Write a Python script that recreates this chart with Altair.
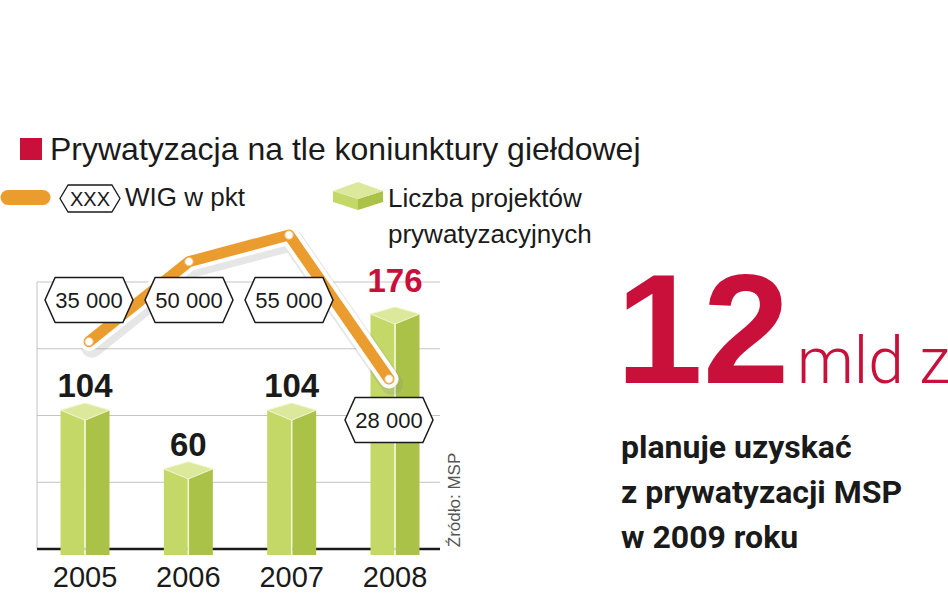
import altair as alt
import pandas as pd

# ---------------- data ----------------
years = ["2005", "2006", "2007", "2008"]
projects = [104, 60, 104, 176]
wig = [35000, 50000, 55000, 28000]
wig_labels = ["35 000", "50 000", "55 000", "28 000"]
grid_values = [50, 100, 150, 200]

title_text = "Prywatyzacja na tle koniunktury giełdowej"
legend_hex_text = "XXX"
legend_line_text = "WIG w pkt"
legend_bar_text = "Liczba projektów\nprywatyzacyjnych"
source_text = "Źródło: MSP"
big_number = "12"
big_unit = "mld zł"
note_text = "planuje uzyskać\nz prywatyzacji MSP\nw 2009 roku"

df = pd.DataFrame({"year": years, "projects": projects, "wig": wig, "wig_label": wig_labels})
grid_df = pd.DataFrame({"v": grid_values})
one = pd.DataFrame({"k": [0]})

# ---------------- styles ----------------
RED = "#c8103a"
ORANGE = "#eb9c2e"
DARK = "#1a1a1a"
GRID = "#c4c4c4"
LEFT_FACE = "#c3d866"
RIGHT_FACE = "#a9c247"
TOP_FACE = "#dce89c"
EDGE = "#f0f6d0"
SANS = "Liberation Sans, Arial, sans-serif"
NUM = "Liberation Sans, Arial, sans-serif"
BOLDTXT = "Roboto, Liberation Sans, sans-serif"

cap_path = "M-1,0L0,-0.29L1,0L0,0.41Z"
hex_path = "M-1,0L-0.77,-0.51L0.77,-0.51L1,0L0.77,0.51L-0.77,0.51Z"
hex_small = "M-1,0L-0.73,-0.45L0.73,-0.45L1,0L0.73,0.45L-0.73,0.45Z"
cube_top = "M-1,-0.2L0,-0.56L1,-0.2L0,0.12Z"
cube_left = "M-1,-0.2L0,0.12L0,0.56L-1,0.24Z"
cube_right = "M0,0.12L1,-0.2L1,0.24L0,0.56Z"

# ---------------- scales ----------------
xb = alt.Scale(type="point", domain=years, range=[85, 395], padding=0)
yb = alt.Scale(domain=[0, 200], range=[549, 282], nice=False, zero=False)
xl = alt.Scale(type="point", domain=years, range=[89, 389], padding=0)
yl = alt.Scale(domain=[28000, 55000], range=[379, 235], nice=False, zero=False)

XB = alt.X("year:O", scale=xb, axis=None)
YB = alt.Y("projects:Q", scale=yb, axis=None)
XL = alt.X("year:O", scale=xl, axis=None)
YL = alt.Y("wig:Q", scale=yl, axis=None)

base = alt.Chart(df)
single = alt.Chart(one)

layers = []

# grid + axes
layers.append(alt.Chart(grid_df).mark_rule(color=GRID, strokeWidth=1).encode(
    y=alt.Y("v:Q", scale=yb, axis=None), x=alt.value(37), x2=alt.value(440)))
layers.append(single.mark_rule(color=GRID, strokeWidth=1).encode(
    x=alt.value(37), y=alt.Y(datum=200, scale=yb, axis=None), y2=alt.datum(0)))
layers.append(single.mark_rule(color=DARK, strokeWidth=2.5).encode(
    y=alt.Y(datum=0, scale=yb, axis=None), x=alt.value(37), x2=alt.value(440)))

# 3D bars
layers.append(base.mark_bar(width=24, xOffset=-12.5, color=LEFT_FACE, y2Offset=6).encode(
    x=XB, y=YB, y2=alt.datum(0)))
layers.append(base.mark_bar(width=24, xOffset=12.5, color=RIGHT_FACE, y2Offset=6).encode(
    x=XB, y=YB, y2=alt.datum(0)))
layers.append(base.mark_rule(color=EDGE, strokeWidth=1.5, y2Offset=6).encode(
    x=XB, y=YB, y2=alt.datum(0)))
layers.append(base.mark_point(shape=cap_path, size=2401, filled=True, fill=TOP_FACE,
                              stroke=EDGE, strokeWidth=1, opacity=1).encode(x=XB, y=YB))

# bar value labels
layers.append(base.transform_filter(alt.datum.year != "2008").mark_text(
    font=NUM, fontWeight="bold", fontSize=33, dy=-13, baseline="alphabetic", color=DARK
).encode(x=XB, y=YB, text="projects:Q"))
layers.append(base.transform_filter(alt.datum.year == "2008").mark_text(
    font=NUM, fontWeight="bold", fontSize=33, dy=-22, baseline="alphabetic", color=RED
).encode(x=XB, y=YB, text="projects:Q"))

# year labels
layers.append(base.mark_text(font=NUM, fontSize=29, baseline="alphabetic", color=DARK).encode(
    x=XB, y=alt.value(587), text="year:N"))

# WIG line
layers.append(base.mark_line(color="#8c8c8c", opacity=0.22, strokeWidth=22, xOffset=3, yOffset=5,
                             strokeCap="round", strokeJoin="round").encode(x=XL, y=YL))
layers.append(base.mark_line(color="white", strokeWidth=19, strokeCap="round",
                             strokeJoin="round").encode(x=XL, y=YL))
layers.append(base.mark_line(color=ORANGE, strokeWidth=11, strokeCap="round",
                             strokeJoin="round").encode(x=XL, y=YL))
layers.append(base.mark_point(filled=True, fill="white", stroke="#f3c27a", strokeWidth=1,
                              size=70, opacity=1).encode(x=XL, y=YL))

# WIG hexagon labels
top_rows = base.transform_filter(alt.datum.year != "2008")
last_row = base.transform_filter(alt.datum.year == "2008")
for src, yy in ((top_rows, 300), (last_row, 420)):
    layers.append(src.mark_point(shape=hex_path, size=7744, filled=True, fill="white",
                                 stroke=DARK, strokeWidth=1.5, opacity=1).encode(
        x=XL, y=alt.value(yy)))
    layers.append(src.mark_text(font=SANS, fontSize=22, baseline="middle", dy=1, color=DARK).encode(
        x=XL, y=alt.value(yy), text="wig_label:N"))

# title
layers.append(single.mark_point(shape="square", size=484, filled=True, color=RED, opacity=1).encode(
    x=alt.value(31), y=alt.value(149)))
layers.append(single.mark_text(text=title_text, font=SANS, fontSize=32, align="left",
                               baseline="alphabetic", color=DARK).encode(
    x=alt.value(50), y=alt.value(160)))

# legend: line
layers.append(single.mark_rule(color=ORANGE, strokeWidth=15, strokeCap="round").encode(
    x=alt.value(8), x2=alt.value(43), y=alt.value(197.5)))
layers.append(single.mark_point(shape=hex_small, size=3600, filled=True, fill="white",
                                stroke=DARK, strokeWidth=1.3, opacity=1).encode(
    x=alt.value(90), y=alt.value(198.5)))
layers.append(single.mark_text(text=legend_hex_text, font=SANS, fontSize=20, baseline="middle",
                               color=DARK).encode(x=alt.value(90), y=alt.value(199.5)))
layers.append(single.mark_text(text=legend_line_text, font=SANS, fontSize=26, align="left",
                               baseline="alphabetic", color=DARK).encode(
    x=alt.value(125), y=alt.value(206)))

# legend: cube
for path, col in ((cube_left, LEFT_FACE), (cube_right, RIGHT_FACE), (cube_top, TOP_FACE)):
    layers.append(single.mark_point(shape=path, size=2500, filled=True, fill=col,
                                    strokeWidth=0, opacity=1).encode(
        x=alt.value(358), y=alt.value(196)))
layers.append(single.mark_text(text=legend_bar_text, lineBreak="\n", lineHeight=36, font=SANS,
                               fontSize=26, align="left", baseline="alphabetic", color=DARK).encode(
    x=alt.value(388), y=alt.value(207)))

# source
layers.append(single.mark_text(text=source_text, font=SANS, fontSize=17, angle=270, align="center",
                               baseline="middle", color="#555555").encode(
    x=alt.value(455), y=alt.value(500)))

# right-hand callout
layers.append(single.mark_text(text=big_number, font=SANS, fontWeight="bold", fontSize=156,
                               align="left", baseline="alphabetic", color=RED).encode(
    x=alt.value(616), y=alt.value(383)))
layers.append(single.mark_text(text=big_unit, font="Roboto, " + SANS, fontWeight=300, fontSize=64,
                               align="left", baseline="alphabetic", color=RED).encode(
    x=alt.value(797), y=alt.value(383)))
layers.append(single.mark_text(text=note_text, lineBreak="\n", lineHeight=45, font=BOLDTXT,
                               fontWeight="bold", fontSize=32, align="left", baseline="alphabetic",
                               color=DARK).encode(x=alt.value(621), y=alt.value(458)))

chart = alt.layer(*layers).resolve_scale(x="independent", y="independent").properties(
    width=948, height=593, autosize=alt.AutoSizeParams(type="none"), padding=0, background="white"
).configure_view(stroke=None)

chart.save("out.html", embed_options={"renderer": "svg", "actions": False})
